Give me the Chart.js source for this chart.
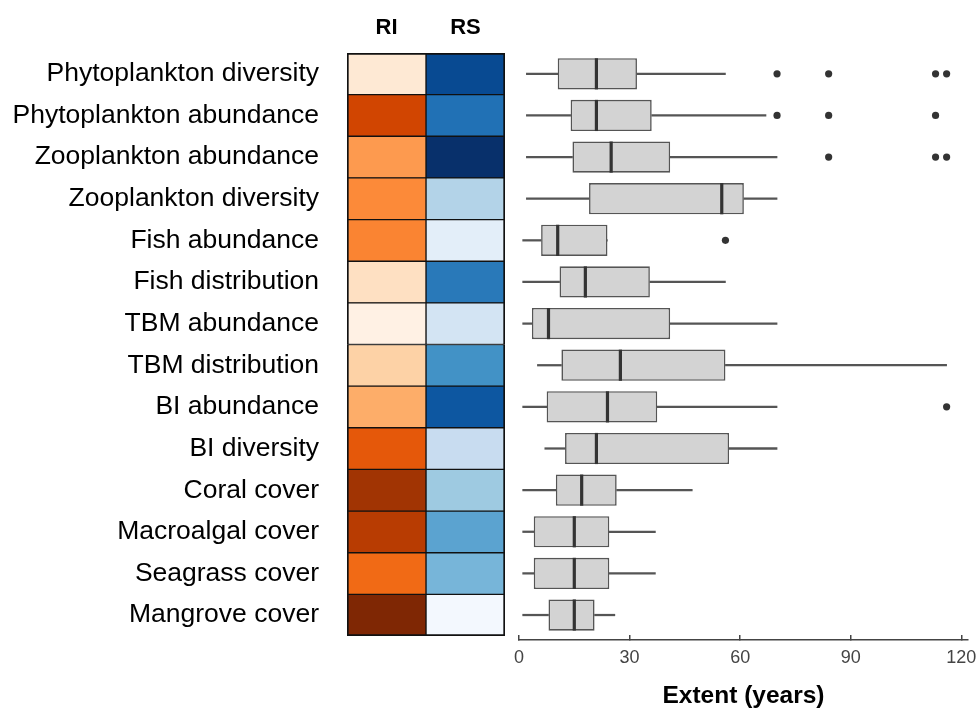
<!DOCTYPE html>
<html>
<head>
<meta charset="utf-8">
<script src="https://cdn.jsdelivr.net/npm/chart.js@4.4.1/dist/chart.umd.min.js"></script>
<style>
  html, body { margin: 0; padding: 0; background: #ffffff; }
  #wrap { position: relative; width: 978px; height: 709px; }
  #heatPane { position: absolute; left: 0; top: 0; width: 510px; height: 709px; }
  #boxPane { position: absolute; left: 510px; top: 0; width: 468px; height: 709px; }
</style>
</head>
<body>
<div id="wrap">
  <div id="heatPane"><canvas id="heat"></canvas></div>
  <div id="boxPane"><canvas id="box"></canvas></div>
</div>
<script>
// ---- data ----
const categories = [
  'Phytoplankton diversity', 'Phytoplankton abundance', 'Zooplankton abundance',
  'Zooplankton diversity', 'Fish abundance', 'Fish distribution', 'TBM abundance',
  'TBM distribution', 'BI abundance', 'BI diversity', 'Coral cover',
  'Macroalgal cover', 'Seagrass cover', 'Mangrove cover'
];
const heatColumns = ['RI', 'RS'];
// relative scores (0 = low, 1 = high)
const RI = [0.10, 0.77, 0.45, 0.51, 0.53, 0.16, 0.03, 0.24, 0.38, 0.69, 0.89, 0.83, 0.62, 1.00];
const RS = [0.90, 0.75, 1.00, 0.31, 0.10, 0.72, 0.18, 0.625, 0.85, 0.24, 0.375, 0.55, 0.47, 0.02];

// extent of records (years): box-plot summaries
const whiskerLow  = [2, 2, 2, 2, 1, 1, 1, 5, 1, 7, 1, 1, 1, 1];
const quartile1   = [10.5, 14, 14.5, 19, 6, 11, 3.5, 11.5, 7.5, 12.5, 10, 4, 4, 8];
const medians     = [21, 21, 25, 55, 10.5, 18, 8, 27.5, 24, 21, 17, 15, 15, 15];
const quartile3   = [32, 36, 41, 61, 24, 35.5, 41, 56, 37.5, 57, 26.5, 24.5, 24.5, 20.5];
const whiskerHigh = [56, 67, 70, 70, 24, 56, 70, 116, 70, 70, 47, 37, 37, 26];
const outliers = [
  [70, 84, 113, 116], [70, 84, 113], [84, 113, 116], [], [56], [], [], [],
  [116], [], [], [], [], []
];
const extentTicks = [0, 30, 60, 90, 120];
const axisTitle = 'Extent (years)';

// ---- colour ramps ----
const ORANGES = ['#fff5eb', '#fee6ce', '#fdd0a2', '#fdae6b', '#fd8d3c', '#f16913', '#d94801', '#a63603', '#7f2704'];
const BLUES   = ['#f7fbff', '#deebf7', '#c6dbef', '#9ecae1', '#6baed6', '#4292c6', '#2171b5', '#08519c', '#08306b'];
function hexToRgb(h) { const n = parseInt(h.slice(1), 16); return [(n >> 16) & 255, (n >> 8) & 255, n & 255]; }
function ramp(stops, t) {
  t = Math.max(0, Math.min(1, t));
  const pos = t * (stops.length - 1);
  const i = Math.min(Math.floor(pos), stops.length - 2);
  const f = pos - i;
  const a = hexToRgb(stops[i]), b = hexToRgb(stops[i + 1]);
  const c = a.map((v, k) => Math.round(v + (b[k] - v) * f));
  return `rgb(${c[0]},${c[1]},${c[2]})`;
}

const FONT = "'Liberation Sans', Arial, Helvetica, sans-serif";
const last = categories.length - 1;

// ---- heat map (left) ----
function cellBorder(col) {
  return (ctx) => ({
    top: ctx.dataIndex === 0 ? 2 : 1,
    bottom: ctx.dataIndex === last ? 2 : 1,
    left: col === 0 ? 2 : 1,
    right: col === 1 ? 2 : 1
  });
}
new Chart(document.getElementById('heat'), {
  type: 'bar',
  data: {
    labels: categories,
    datasets: [
      {
        label: heatColumns[0],
        data: categories.map(() => [0, 1]),
        backgroundColor: RI.map(v => ramp(ORANGES, v)),
        borderColor: '#111111',
        borderWidth: cellBorder(0),
        borderSkipped: false,
        grouped: false,
        barPercentage: 1,
        categoryPercentage: 1
      },
      {
        label: heatColumns[1],
        data: categories.map(() => [1, 2]),
        backgroundColor: RS.map(v => ramp(BLUES, v)),
        borderColor: '#111111',
        borderWidth: cellBorder(1),
        borderSkipped: false,
        grouped: false,
        barPercentage: 1,
        categoryPercentage: 1
      }
    ]
  },
  options: {
    indexAxis: 'y',
    responsive: true,
    maintainAspectRatio: false,
    animation: false,
    layout: { autoPadding: false, padding: { top: 0, right: 5, bottom: 73, left: 0 } },
    plugins: { legend: { display: false }, tooltip: { enabled: false } },
    scales: {
      x: {
        type: 'linear',
        position: 'top',
        min: 0,
        max: 2,
        offset: false,
        grid: { display: false, drawTicks: false },
        border: { display: false },
        afterBuildTicks: (s) => { s.ticks = heatColumns.map((_, i) => ({ value: i + 0.5 })); },
        afterFit: (s) => { s.height = 53; s.paddingLeft = 0; s.paddingRight = 0; },
        ticks: {
          padding: 12,
          color: '#000000',
          font: { family: FONT, size: 22, weight: 'bold' },
          callback: (v, i) => heatColumns[i]
        }
      },
      y: {
        type: 'category',
        grid: { display: false, drawTicks: false },
        border: { display: false },
        afterFit: (s) => { s.width = 347; s.paddingTop = 0; s.paddingBottom = 0; },
        ticks: {
          padding: 28,
          color: '#000000',
          font: { family: FONT, size: 26.5 }
        }
      }
    }
  }
});

// ---- box plots (right) ----
const rowIdx = categories.map((_, i) => i);
const BOX_EDGE = '#555555';
new Chart(document.getElementById('box'), {
  type: 'scatter',
  data: {
    datasets: [
      {
        type: 'scatter',
        label: 'median',
        data: rowIdx.map(i => ({ x: medians[i], y: i })),
        pointStyle: 'line',
        rotation: 90,
        radius: 15.6,
        borderWidth: 3.2,
        borderColor: '#333333',
        backgroundColor: '#333333'
      },
      {
        type: 'scatter',
        label: 'outliers',
        data: rowIdx.flatMap(i => outliers[i].map(v => ({ x: v, y: i }))),
        pointStyle: 'circle',
        radius: 3.6,
        borderWidth: 0,
        backgroundColor: '#333333'
      },
      {
        type: 'bar',
        label: 'IQR',
        indexAxis: 'y',
        data: rowIdx.map(i => ({ x: [quartile1[i], quartile3[i]], y: i })),
        backgroundColor: '#d3d3d3',
        borderColor: BOX_EDGE,
        borderWidth: 1.6,
        borderSkipped: false,
        grouped: false,
        barPercentage: 0.75,
        categoryPercentage: 1
      },
      {
        type: 'bar',
        label: 'lower whisker',
        indexAxis: 'y',
        data: rowIdx.map(i => ({ x: [whiskerLow[i], quartile1[i]], y: i })),
        backgroundColor: BOX_EDGE,
        borderWidth: 0,
        grouped: false,
        barThickness: 1.6
      },
      {
        type: 'bar',
        label: 'upper whisker',
        indexAxis: 'y',
        data: rowIdx.map(i => ({ x: [quartile3[i], whiskerHigh[i]], y: i })),
        backgroundColor: BOX_EDGE,
        borderWidth: 0,
        grouped: false,
        barThickness: 1.6
      }
    ]
  },
  options: {
    responsive: true,
    maintainAspectRatio: false,
    animation: false,
    layout: { autoPadding: false, padding: { top: 53, right: 10, bottom: 0, left: 9 } },
    plugins: { legend: { display: false }, tooltip: { enabled: false } },
    scales: {
      x: {
        type: 'linear',
        position: 'bottom',
        min: 0,
        max: 121.8,
        offset: false,
        grid: { offset: false, drawOnChartArea: false, drawTicks: true, tickLength: -5, color: '#444444', lineWidth: 1.5 },
        border: { display: true, color: '#444444', width: 1.5 },
        afterBuildTicks: (s) => { s.ticks = extentTicks.map(v => ({ value: v })); },
        afterFit: (s) => { s.height = 69; s.paddingLeft = 0; s.paddingRight = 0; },
        ticks: {
          padding: 12,
          color: '#444444',
          font: { family: FONT, size: 18 }
        },
        title: {
          display: true,
          text: axisTitle,
          color: '#000000',
          padding: { top: 0, bottom: -2 },
          font: { family: FONT, size: 24.5, weight: 'bold' }
        }
      },
      y: {
        type: 'linear',
        display: false,
        reverse: true,
        offset: false,
        grid: { offset: false },
        min: -0.5,
        max: 13.6,
        afterBuildTicks: (s) => { s.ticks = rowIdx.map(i => ({ value: i })); }
      }
    }
  }
});
</script>
</body>
</html>
